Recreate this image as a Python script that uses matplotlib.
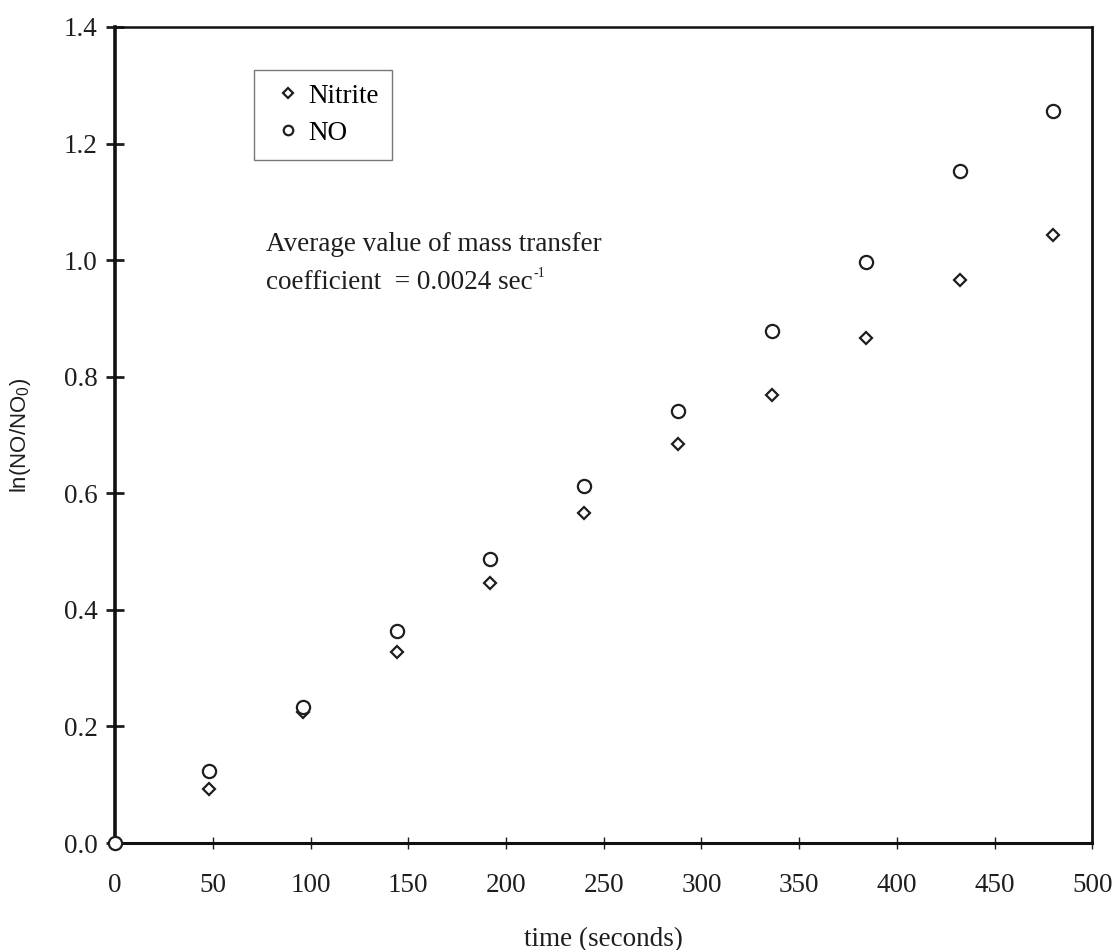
import matplotlib
matplotlib.use("Agg")
import matplotlib.pyplot as plt

plt.rcParams["font.family"] = ["Liberation Serif", "DejaVu Serif"]
plt.rcParams["mathtext.fontset"] = "custom"
plt.rcParams["mathtext.rm"] = "Liberation Sans"
plt.rcParams["mathtext.it"] = "Liberation Sans:italic"

# time (s) and ln(NO/NO0) for the two methods
time_s = [0, 48, 96, 144, 192, 240, 288, 336, 384, 432, 480]
nitrite = [0.0, 0.093, 0.224, 0.328, 0.446, 0.566, 0.685, 0.768, 0.866, 0.966, 1.043]
no_gas = [0.0, 0.123, 0.233, 0.363, 0.487, 0.612, 0.741, 0.878, 0.996, 1.153, 1.256]

xticks = [0, 50, 100, 150, 200, 250, 300, 350, 400, 450, 500]
yticks = [0.0, 0.2, 0.4, 0.6, 0.8, 1.0, 1.2, 1.4]

FS = 19.5
INK = "#1e1e1e"

fig = plt.figure(figsize=(11.17, 9.5), dpi=100)
ax = fig.add_axes([0.103, 0.1126, 0.875, 0.859])

ax.plot(time_s, nitrite, linestyle="none", marker="D", ms=6.5, mfc="white",
        mec=INK, mew=1.6, label="Nitrite", clip_on=False, zorder=3)
ax.plot(time_s, no_gas, linestyle="none", marker="o", ms=9.5, mfc="white",
        mec=INK, mew=1.6, label="NO", clip_on=False, zorder=4)

ax.set_xlim(0, 500)
ax.set_ylim(0, 1.4)
ax.set_xticks(xticks)
ax.set_yticks(yticks)
ax.set_xticklabels([str(v) for v in xticks])
ax.set_yticklabels([f"{v:.1f}" for v in yticks])

ax.spines["left"].set_linewidth(2.6)
ax.spines["bottom"].set_linewidth(2.2)
ax.spines["top"].set_linewidth(1.8)
ax.spines["right"].set_linewidth(2.0)
for s in ax.spines.values():
    s.set_color("#111111")

ax.tick_params(axis="y", direction="inout", length=13, width=2, pad=6,
               labelsize=FS, colors=INK)
ax.tick_params(axis="x", direction="inout", length=9, width=1, pad=17,
               labelsize=FS, colors=INK)

ax.set_xlabel("time (seconds)", fontsize=FS, labelpad=21, color=INK)
ax.set_ylabel(r"ln(NO/NO$_0$)", fontsize=16, labelpad=22, color=INK,
              family="Liberation Sans")

leg = ax.legend(loc="upper left", bbox_to_anchor=(0.142, 0.947),
                fontsize=FS, frameon=True, fancybox=False, markerscale=0.72,
                handlelength=1.5, handletextpad=0.0, borderpad=0.5,
                labelspacing=0.45, borderaxespad=0)
leg.get_frame().set_edgecolor("#555555")
leg.get_frame().set_linewidth(1.0)

ax.text(77, 1.026, "Average value of mass transfer", fontsize=FS,
        va="center", ha="left", color=INK)
coef = ax.text(77, 0.962, "coefficient  = 0.0024 sec", fontsize=FS,
               va="center", ha="left", color=INK)
ax.annotate("-1", xy=(1, 1), xycoords=coef, xytext=(1, 2),
            textcoords="offset points", fontsize=10, ha="left", va="top",
            color=INK)

fig.savefig("out.png", dpi=100)
